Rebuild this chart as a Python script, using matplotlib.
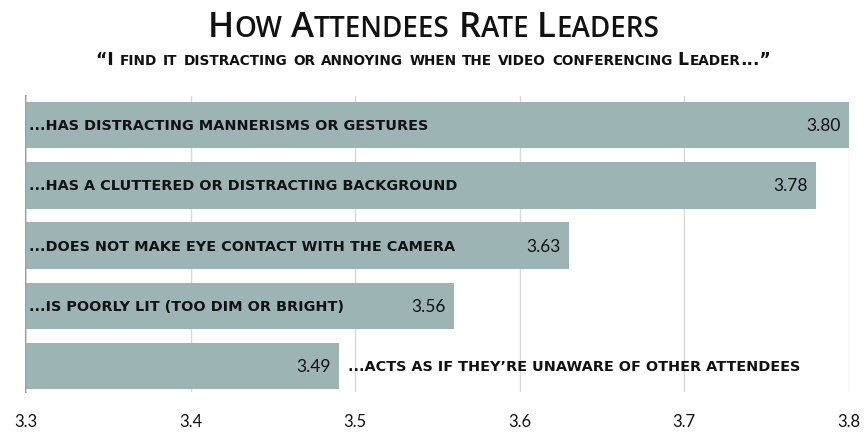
import matplotlib
matplotlib.use("Agg")
import matplotlib.pyplot as plt

# Données
items = [
    "...has distracting mannerisms or gestures",
    "...has a cluttered or distracting background",
    "...does not make eye contact with the camera",
    "...is poorly lit (too dim or bright)",
    "...acts as if they\u2019re unaware of other attendees",
]
scores = [3.80, 3.78, 3.63, 3.56, 3.49]
ticks = [3.3, 3.4, 3.5, 3.6, 3.7, 3.8]

title = "How Attendees Rate Leaders"
subtitle = "\u201cI find it distracting or annoying when the video conferencing Leader...\u201d"

bar_color = "#9db4b4"
text_color = "#111111"


def small_caps(fig, xc, y, s, big, small, family, weight="normal"):
    # Majuscules en grand, minuscules en petites capitales
    runs = []
    for ch in s:
        is_small = ch.islower()
        if runs and runs[-1][1] == is_small:
            runs[-1][0] += ch
        else:
            runs.append([ch, is_small])
    renderer = fig.canvas.get_renderer()
    texts = []
    widths = []
    for txt, is_small in runs:
        t = fig.text(0, y, txt.upper(), fontsize=small if is_small else big,
                     family=family, weight=weight, color=text_color,
                     ha="left", va="baseline")
        texts.append(t)
        widths.append(t.get_window_extent(renderer).width)
    figw = fig.get_figwidth() * fig.dpi
    x = xc - sum(widths) / figw / 2
    for t, w in zip(texts, widths):
        t.set_x(x)
        x += w / figw


fig = plt.figure(figsize=(8.67, 4.35), dpi=100)
ax = fig.add_axes([0.030, 0.0966, 0.949, 0.680])

y = list(range(len(items)))
ax.barh(y, [s - 3.3 for s in scores], left=3.3, height=0.77, color=bar_color, zorder=2)

ax.set_xlim(3.3, 3.8)
ax.set_ylim(4.43, -0.48)
ax.set_xticks(ticks)
ax.set_xticklabels([f"{t:.1f}" for t in ticks], fontsize=12, family="Lato", color=text_color)
ax.tick_params(axis="x", length=0, pad=15)
ax.set_yticks([])
ax.grid(axis="x", color="#d8d8d8", linewidth=1, zorder=0)
for side in ["top", "right", "bottom"]:
    ax.spines[side].set_visible(False)
ax.spines["left"].set_color("#888888")
ax.spines["left"].set_linewidth(1.2)
ax.spines["left"].set_zorder(1)

for i, (lab, sc) in enumerate(zip(items, scores)):
    ax.text(sc - 0.005, i, f"{sc:.2f}", ha="right", va="center", fontsize=12.5,
            family="Lato", color=text_color, zorder=3)
    x0 = 3.302 if sc > 3.52 else sc + 0.0055
    ax.text(x0, i, lab.upper(), ha="left", va="center", fontsize=10.4,
            weight="bold", family="DejaVu Sans", color=text_color, zorder=3)

small_caps(fig, 0.5, 1 - 37 / 435, title, 25, 20, "Open Sans", weight="semibold")
small_caps(fig, 0.5, 1 - 65 / 435, subtitle, 12.3, 9.8, "DejaVu Sans", weight="bold")

fig.savefig("out.png", dpi=100)
